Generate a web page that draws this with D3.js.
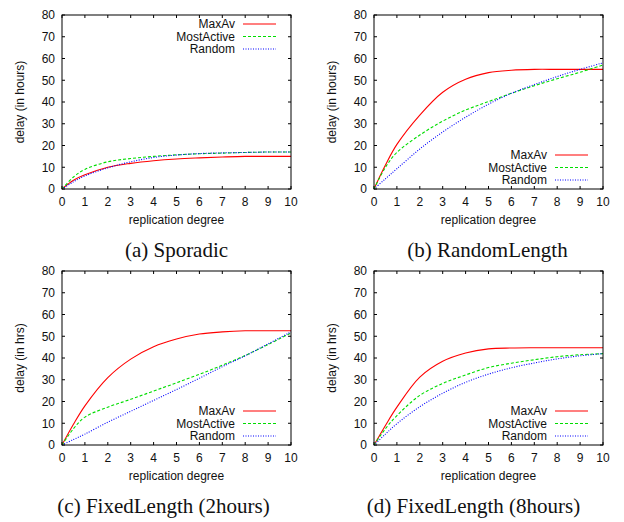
<!DOCTYPE html>
<html>
<head>
<meta charset="utf-8">
<script src="https://cdn.jsdelivr.net/npm/d3@7"></script>
<style>
    body { margin: 0; background: #fff; }
    svg { display: block; }
    .tick-label, .axis-label, .legend-label { font-family: "Liberation Sans", Arial, sans-serif; font-size: 12px; fill: #111; }
    .caption { font-family: "Liberation Serif", "Times New Roman", serif; font-size: 21px; fill: #111; }
</style>
</head>
<body>
<div id="chart"></div>
<script>
// replication degree sampled along x
var degrees = [0, 0.5, 1, 2, 3, 4, 5, 6, 7, 8, 9, 10];
var xTicks = [0, 1, 2, 3, 4, 5, 6, 7, 8, 9, 10];
var yTicks = [0, 10, 20, 30, 40, 50, 60, 70, 80];
var seriesNames = ['MaxAv', 'MostActive', 'Random'];

// (a) Sporadic
var sporadicMaxAv      = [0, 4.0, 6.5, 10.0, 11.8, 13.0, 13.8, 14.3, 14.7, 15.0, 15.0, 15.0];
var sporadicMostActive = [0, 5.5, 9.0, 12.5, 14.0, 15.0, 15.7, 16.2, 16.5, 16.8, 17.0, 17.0];
var sporadicRandom     = [0, 3.3, 6.0, 9.7, 12.5, 14.5, 15.6, 16.3, 16.6, 16.8, 17.0, 17.0];

// (b) RandomLength
var randLenMaxAv      = [0, 11.0, 20.5, 34.0, 44.5, 50.5, 53.5, 54.6, 55.0, 55.0, 55.0, 55.0];
var randLenMostActive = [0, 10.0, 16.8, 24.8, 31.2, 36.3, 40.2, 44.0, 47.5, 50.7, 53.7, 57.0];
var randLenRandom     = [0, 4.7, 9.3, 18.4, 26.2, 33.0, 39.0, 44.0, 48.0, 51.7, 55.0, 58.0];

// (c) FixedLength (2hours)
var fixed2MaxAv      = [0, 9.5, 18.0, 31.0, 39.5, 45.2, 48.7, 51.0, 52.0, 52.5, 52.5, 52.5];
var fixed2MostActive = [0, 7.5, 12.8, 17.4, 21.0, 24.8, 28.6, 32.5, 36.7, 41.2, 46.2, 51.5];
var fixed2Random     = [0, 2.5, 5.0, 10.5, 15.5, 20.5, 25.5, 30.7, 36.0, 41.0, 46.5, 52.0];

// (d) FixedLength (8hours)
var fixed8MaxAv      = [0, 9.0, 17.4, 31.2, 38.5, 42.3, 44.2, 44.6, 44.7, 44.7, 44.7, 44.7];
var fixed8MostActive = [0, 7.5, 13.5, 22.8, 28.3, 32.2, 35.6, 37.6, 39.2, 40.6, 41.5, 42.0];
var fixed8Random     = [0, 5.0, 9.8, 17.6, 23.8, 28.8, 32.6, 35.5, 37.7, 39.6, 41.0, 42.0];

var captions = ['(a) Sporadic', '(b) RandomLength', '(c) FixedLength (2hours)', '(d) FixedLength (8hours)'];
var yLabels = ['delay (in hours)', 'delay (in hours)', 'delay (in hrs)', 'delay (in hrs)'];

var panels = [
    {values: [sporadicMaxAv, sporadicMostActive, sporadicRandom], legendTop: true, capShift: 0},
    {values: [randLenMaxAv, randLenMostActive, randLenRandom], legendTop: false, capShift: -1},
    {values: [fixed2MaxAv, fixed2MostActive, fixed2Random], legendTop: false, capShift: -13},
    {values: [fixed8MaxAv, fixed8MostActive, fixed8Random], legendTop: false, capShift: -15}
];

var styles = [
    {color: '#ff0000', dash: null},
    {color: '#00dd00', dash: '3,2'},
    {color: '#0000ff', dash: '1,1.5'}
];

var W = 624, H = 522,
    plotW = 229,
    plotH = 174,
    lefts = [62, 374],
    tops = [15, 271],
    tickLen = 3;

var svg = d3.select("#chart").append("svg")
    .attr("width", W)
    .attr("height", H);

panels.forEach(function(p, i) {
    var g = svg.append("g")
        .attr("transform", "translate(" + lefts[i % 2] + "," + tops[Math.floor(i / 2)] + ")");
    drawPanel(g, p, i);
});

function drawPanel(g, p, i) {
    var x = d3.scaleLinear().domain([0, 10]).range([0, plotW]);
    var y = d3.scaleLinear().domain([0, 80]).range([plotH, 0]);

    // ticks on all four sides, pointing inward (gnuplot mirror style)
    var ticks = g.append("g").attr("stroke", "#000").attr("stroke-width", 1);
    xTicks.forEach(function(t) {
        ticks.append("line").attr("x1", x(t)).attr("x2", x(t)).attr("y1", plotH).attr("y2", plotH - tickLen);
        ticks.append("line").attr("x1", x(t)).attr("x2", x(t)).attr("y1", 0).attr("y2", tickLen);
    });
    yTicks.forEach(function(t) {
        ticks.append("line").attr("x1", 0).attr("x2", tickLen).attr("y1", y(t)).attr("y2", y(t));
        ticks.append("line").attr("x1", plotW).attr("x2", plotW - tickLen).attr("y1", y(t)).attr("y2", y(t));
    });

    g.selectAll("text.xt")
        .data(xTicks)
        .enter().append("text")
        .attr("class", "tick-label xt")
        .attr("x", function(d) { return x(d); })
        .attr("y", plotH + 16.5)
        .attr("text-anchor", "middle")
        .text(function(d) { return d; });

    g.selectAll("text.yt")
        .data(yTicks)
        .enter().append("text")
        .attr("class", "tick-label yt")
        .attr("x", -7)
        .attr("y", function(d) { return y(d) + 4.3; })
        .attr("text-anchor", "end")
        .text(function(d) { return d; });

    g.append("text")
        .attr("class", "axis-label")
        .attr("text-anchor", "middle")
        .attr("transform", "translate(-38," + (plotH / 2) + ") rotate(-90)")
        .text(yLabels[i]);

    g.append("text")
        .attr("class", "axis-label")
        .attr("text-anchor", "middle")
        .attr("x", plotW / 2)
        .attr("y", plotH + 34.5)
        .text("replication degree");

    g.append("text")
        .attr("class", "caption")
        .attr("text-anchor", "middle")
        .attr("x", plotW / 2 + p.capShift)
        .attr("y", plotH + 68)
        .text(captions[i]);

    var line = d3.line()
        .curve(d3.curveCatmullRom.alpha(0.5))
        .x(function(d, j) { return x(degrees[j]); })
        .y(function(d) { return y(d); });

    p.values.forEach(function(vals, k) {
        g.append("path")
            .attr("d", line(vals))
            .attr("fill", "none")
            .attr("stroke", styles[k].color)
            .attr("stroke-width", 1.1)
            .attr("stroke-dasharray", styles[k].dash);
    });

    // legend
    var rowY = p.legendTop ? [9, 21.5, 34] : [plotH - 34, plotH - 21.5, plotH - 9];
    seriesNames.forEach(function(name, k) {
        g.append("text")
            .attr("class", "legend-label")
            .attr("x", plotW - 56)
            .attr("y", rowY[k] + 4.3)
            .attr("text-anchor", "end")
            .text(name);
        g.append("line")
            .attr("x1", plotW - 48)
            .attr("x2", plotW - 15)
            .attr("y1", rowY[k])
            .attr("y2", rowY[k])
            .attr("stroke", styles[k].color)
            .attr("stroke-width", 1.1)
            .attr("stroke-dasharray", styles[k].dash);
    });

    g.append("rect")
        .attr("width", plotW)
        .attr("height", plotH)
        .attr("fill", "none")
        .attr("stroke", "#000")
        .attr("stroke-width", 1);
}
</script>
</body>
</html>
